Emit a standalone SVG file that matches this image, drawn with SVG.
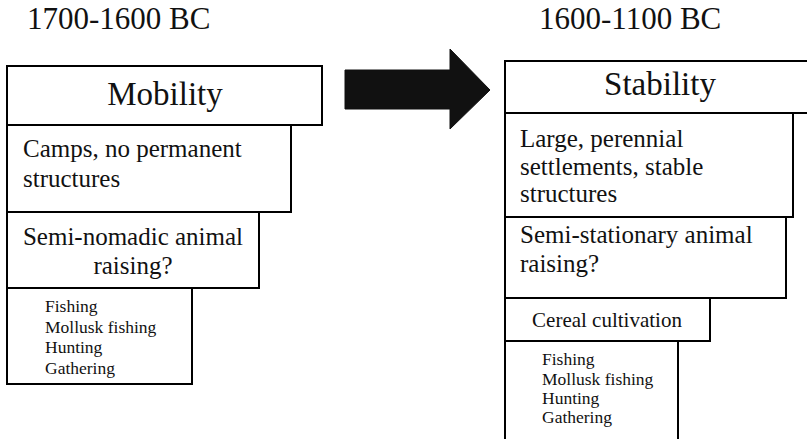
<svg xmlns="http://www.w3.org/2000/svg" width="807" height="439" viewBox="0 0 807 439">
<defs>
<style>
.box{fill:#fff;stroke:#000;stroke-width:2}
.title{font-size:31px}
.head{font-size:33px;text-anchor:middle}
.mid{font-size:25px}
.c{text-anchor:middle}
.small{font-size:17.5px}
.cer{font-size:21px;text-anchor:middle}
</style>
<clipPath id="clipStab"><rect x="505" y="61" width="302" height="52"/></clipPath>
<clipPath id="clipFishL"><rect x="7" y="288" width="185" height="90"/></clipPath>
<clipPath id="clipFishR"><rect x="505" y="341" width="173" height="86"/></clipPath>
</defs>
<rect width="807" height="439" fill="#fff"/>
<g font-family="'Liberation Serif', 'Times New Roman', Times, 'DejaVu Serif', serif" fill="#111">
<text class="title" x="27" y="29">1700-1600 BC</text>
<text class="title" x="539" y="29">1600-1100 BC</text>
<g id="mobility"><rect class="box" x="7" y="66" width="315" height="59"/><text class="head" x="165" y="105">Mobility</text></g>
<g id="camps"><rect class="box" x="7" y="125" width="284" height="87"/><text class="mid" x="23" y="157">Camps, no permanent</text><text class="mid" x="23" y="187">structures</text></g>
<g id="seminomadic"><rect class="box" x="7" y="212" width="252" height="76"/><text class="mid c" x="133" y="245">Semi-nomadic animal</text><text class="mid c" x="133" y="274">raising?</text></g>
<g id="fishingL"><rect class="box" x="7" y="288" width="185" height="96"/><g clip-path="url(#clipFishL)"><text class="small" x="45" y="312">Fishing</text><text class="small" x="45" y="333">Mollusk fishing</text><text class="small" x="45" y="353">Hunting</text><text class="small" x="45" y="374">Gathering</text></g></g>
<g id="connectors"><polygon points="345,70 450,70 450,49 490,90 450,129 450,109 345,109" fill="#111" stroke="#111" stroke-width="1"/></g>
<g id="stability"><rect class="box" x="505" y="61" width="310" height="52"/><g clip-path="url(#clipStab)"><text class="head" x="660" y="95">Stability</text></g></g>
<g id="large"><rect class="box" x="505" y="113" width="288" height="104"/><text class="mid" x="520" y="147">Large, perennial</text><text class="mid" x="520" y="175">settlements, stable</text><text class="mid" x="520" y="202">structures</text></g>
<g id="semistationary"><rect class="box" x="505" y="217" width="281" height="81"/><text class="mid" x="520" y="243">Semi-stationary animal</text><text class="mid" x="520" y="272">raising?</text></g>
<g id="cereal"><rect class="box" x="505" y="298" width="205" height="43"/><text class="cer" x="607" y="327">Cereal cultivation</text></g>
<g id="fishingR"><rect class="box" x="505" y="341" width="173" height="100"/><g clip-path="url(#clipFishR)"><text class="small" x="542" y="365">Fishing</text><text class="small" x="542" y="385">Mollusk fishing</text><text class="small" x="542" y="404">Hunting</text><text class="small" x="542" y="423">Gathering</text></g></g>
</g>
</svg>
